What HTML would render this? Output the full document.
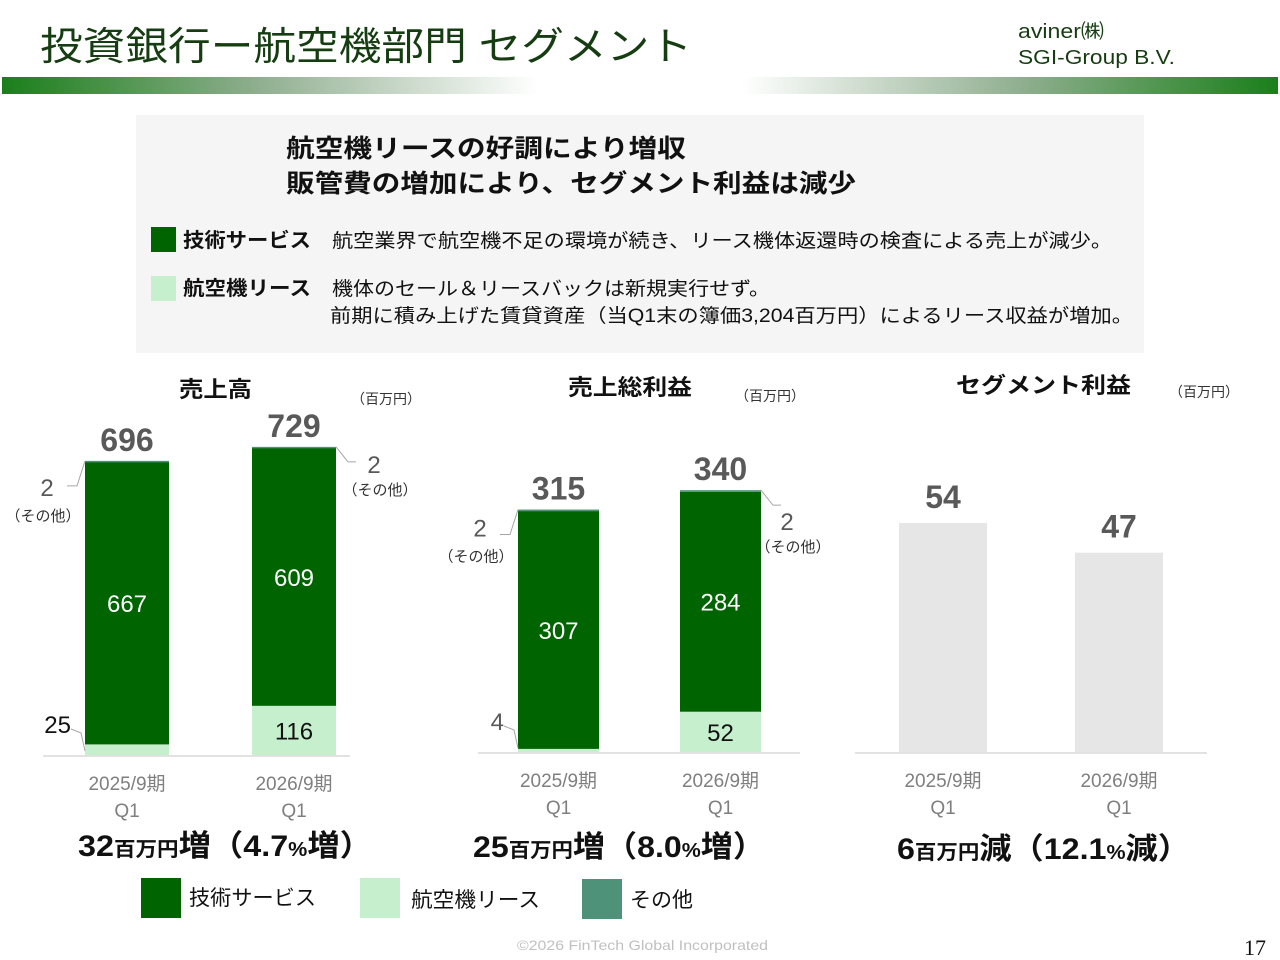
<!DOCTYPE html>
<html><head><meta charset="utf-8"><style>
html,body{margin:0;padding:0;background:#fff;}
svg{display:block;font-family:"Liberation Sans","Noto Sans CJK JP",sans-serif;}
</style></head><body>
<svg id="s" width="1280" height="960" viewBox="0 0 1280 960">
<defs>
<linearGradient id="g1" x1="0" x2="1"><stop offset="0" stop-color="#1a7f1a"/><stop offset="0.2" stop-color="#8fae8f"/><stop offset="0.42" stop-color="#ffffff"/><stop offset="0.58" stop-color="#ffffff"/><stop offset="0.8" stop-color="#8fae8f"/><stop offset="1" stop-color="#1a7f1a"/></linearGradient>
</defs>
<text x="40" y="60" font-size="39" fill="#163d12" textLength="652" lengthAdjust="spacingAndGlyphs">投資銀行ー航空機部門 セグメント</text>
<text x="1018" y="38" font-size="20" fill="#163d12" textLength="86" lengthAdjust="spacingAndGlyphs">aviner㈱</text>
<text x="1018" y="64" font-size="20" fill="#163d12" textLength="157" lengthAdjust="spacingAndGlyphs">SGI-Group B.V.</text>
<rect x="2" y="77" width="1276" height="17" fill="url(#g1)"/>
<rect x="136" y="115" width="1008" height="238" fill="#f5f5f5"/>
<text x="286" y="157" font-size="25" font-weight="bold" fill="#111" textLength="400" lengthAdjust="spacingAndGlyphs">航空機リースの好調により増収</text>
<text x="286" y="192" font-size="25" font-weight="bold" fill="#111" textLength="570" lengthAdjust="spacingAndGlyphs">販管費の増加により、セグメント利益は減少</text>
<rect x="151" y="227" width="25" height="25" fill="#006400"/>
<text x="183" y="247" font-size="20" font-weight="bold" fill="#111" textLength="128" lengthAdjust="spacingAndGlyphs">技術サービス</text>
<text x="332" y="247" font-size="19" fill="#111" textLength="780" lengthAdjust="spacingAndGlyphs">航空業界で航空機不足の環境が続き、リース機体返還時の検査による売上が減少。</text>
<rect x="151" y="276" width="25" height="25" fill="#c6efce"/>
<text x="183" y="295" font-size="20" font-weight="bold" fill="#111" textLength="128" lengthAdjust="spacingAndGlyphs">航空機リース</text>
<text x="332" y="295" font-size="19" fill="#111" textLength="438" lengthAdjust="spacingAndGlyphs">機体のセール＆リースバックは新規実行せず。</text>
<text x="330" y="322" font-size="19" fill="#111" textLength="803" lengthAdjust="spacingAndGlyphs">前期に積み上げた賃貸資産（当Q1末の簿価3,204百万円）によるリース収益が増加。</text>

<text x="179" y="397" font-size="22" font-weight="bold" fill="#111" textLength="73" lengthAdjust="spacingAndGlyphs">売上高</text>
<text x="386" y="404" font-size="14" fill="#333" text-anchor="middle">（百万円）</text>
<text x="568" y="395" font-size="22" font-weight="bold" fill="#111" textLength="124" lengthAdjust="spacingAndGlyphs">売上総利益</text>
<text x="770" y="401" font-size="14" fill="#333" text-anchor="middle">（百万円）</text>
<text x="956" y="393" font-size="22" font-weight="bold" fill="#111" textLength="175" lengthAdjust="spacingAndGlyphs">セグメント利益</text>
<text x="1204" y="397" font-size="14" fill="#333" text-anchor="middle">（百万円）</text>

<g id="charts"></g>

<text x="78" y="856" font-size="30" font-weight="bold" fill="#111" textLength="294" lengthAdjust="spacingAndGlyphs">32<tspan font-size="20">百万円</tspan>増（4.7<tspan font-size="20">%</tspan>増）</text>
<text x="473" y="857" font-size="30" font-weight="bold" fill="#111" textLength="292" lengthAdjust="spacingAndGlyphs">25<tspan font-size="20">百万円</tspan>増（8.0<tspan font-size="20">%</tspan>増）</text>
<text x="897" y="859" font-size="30" font-weight="bold" fill="#111" textLength="293" lengthAdjust="spacingAndGlyphs">6<tspan font-size="20">百万円</tspan>減（12.1<tspan font-size="20">%</tspan>減）</text>

<rect x="141" y="878" width="40" height="40" fill="#006400"/>
<text x="189" y="905" font-size="21" fill="#111" textLength="127" lengthAdjust="spacingAndGlyphs">技術サービス</text>
<rect x="360" y="878" width="40" height="40" fill="#c6efce"/>
<text x="411" y="907" font-size="21" fill="#111" textLength="129" lengthAdjust="spacingAndGlyphs">航空機リース</text>
<rect x="582" y="879" width="40" height="40" fill="#4f927a"/>
<text x="630" y="907" font-size="21" fill="#111" textLength="63" lengthAdjust="spacingAndGlyphs">その他</text>
<text x="517" y="950" font-size="14" fill="#c0c0c0" textLength="251" lengthAdjust="spacingAndGlyphs">©2026 FinTech Global Incorporated</text>
<text x="1266" y="955" font-size="22" fill="#111" text-anchor="end" font-family="Liberation Serif, serif">17</text>
</svg>
<script>
const categories = ["2025/9期", "2026/9期"];
const salesTech = [667, 609];
const salesLease = [25, 116];
const salesOther = [2, 2];
const salesTotal = [696, 729];
const grossTech = [307, 284];
const grossLease = [4, 52];
const grossOther = [2, 2];
const grossTotal = [315, 340];
const segProfit = [54, 47];

const NS = "http://www.w3.org/2000/svg";
const G = document.getElementById('charts');
function mk(tag, at, txt){const e=document.createElementNS(NS,tag);for(const k in at)e.setAttribute(k,at[k]);if(txt!=null)e.textContent=txt;G.appendChild(e);return e;}

const charts = [
 {base:755, scale:295/696, xs:[85,252], w:84, axis:[43,350], tech:salesTech, lease:salesLease, other:salesOther, total:salesTotal, n:'sales', oy:[35,26], ny:[60,48]},
 {base:752, scale:244/315, xs:[518,680], w:81, axis:[478,800], tech:grossTech, lease:grossLease, other:grossOther, total:grossTotal, n:'gross', oy:[27,40], ny:[52,62]},
 {base:752, scale:229/54, xs:[899,1075], w:88, axis:[855,1207], seg:segProfit, n:'segment'}
];
charts.forEach((c,ci)=>{
  const y = v => c.base - v*c.scale;
  let l = mk('line',{x1:c.axis[0],x2:c.axis[1],y1:c.base+1,y2:c.base+1,stroke:'#d9d9d9','stroke-width':1.5});
  
  
  categories.forEach((cat,i)=>{
    const x=c.xs[i], cx=x+c.w/2;
    if(c.seg){
      const v=c.seg[i];
      let r=mk('rect',{x:x,y:y(v),width:c.w,height:v*c.scale,fill:'#e6e6e6'});
      
      
      let t=mk('text',{x:cx,y:y(v)-15,'font-size':32,'font-weight':'bold',fill:'#595959','text-anchor':'middle'},String(v));
      
      
    } else {
      const lv=c.lease[i], tv=c.tech[i], ov=c.other[i];
      let r1=mk('rect',{x:x,y:y(lv),width:c.w,height:lv*c.scale,fill:'#c6efce'});
      
      
      let r2=mk('rect',{x:x,y:y(lv+tv),width:c.w,height:tv*c.scale,fill:'#006400'});
      
      
      let r3=mk('rect',{x:x,y:y(lv+tv+ov),width:c.w,height:Math.max(ov*c.scale,1.5),fill:'#4f927a'});
      
      
      let tt=mk('text',{x:cx,y:(y(lv+tv)+y(lv))/2+9,'font-size':24,fill:'#fff','text-anchor':'middle'},String(tv));
      
      
      const lh=lv*c.scale;
      let lt;
      if(lh>30){
        lt=mk('text',{x:cx,y:(y(lv)+c.base)/2+9,'font-size':24,fill:'#111','text-anchor':'middle'},String(lv));
      } else {
        lt=mk('text',{x:x-14,y:c.base-22,'font-size':24,fill:'#111','text-anchor':'end'},String(lv));
        if(ci==1){lt.setAttribute('fill','#595959');}
        let ll=mk('polyline',{points:(x-14)+','+(c.base-26)+' '+(x-4)+','+(c.base-22)+' '+x+','+(c.base-4),fill:'none',stroke:'#a6a6a6','stroke-width':1});
        
        
      }
      
      
      const top=y(lv+tv+ov);
      let tot=mk('text',{x:cx,y:top-10,'font-size':32,'font-weight':'bold',fill:'#595959','text-anchor':'middle'},String(c.total[i]));
      
      
      const left = i==0, ox = left ? x-36 : x+c.w+(ci==1?24:36);
      let ol=mk('polyline',{points:(left? (x)+','+top+' '+(x-8)+','+(top+25)+' '+(x-18)+','+(top+25) : (x+c.w)+','+top+' '+(x+c.w+12)+','+(top+15)+' '+(x+c.w+20)+','+(top+15)),fill:'none',stroke:'#a6a6a6','stroke-width':1});
      
      
      let ot=mk('text',{x:ox+(left?-2:2),y:top+c.oy[i],'font-size':24,fill:'#595959','text-anchor':'middle'},String(ov));
      
      
      let os=mk('text',{x:ox+(left?-6:8),y:top+c.ny[i],'font-size':15,fill:'#333','text-anchor':'middle'},'（その他）');
      
      
    }
    let c1=mk('text',{x:cx,y:c.base+35,'font-size':19,fill:'#7f7f7f','text-anchor':'middle'},cat);
    
    
    let c2=mk('text',{x:cx,y:c.base+62,'font-size':19,fill:'#7f7f7f','text-anchor':'middle'},'Q1');
    
    
  });
});
</script>
</body></html>
